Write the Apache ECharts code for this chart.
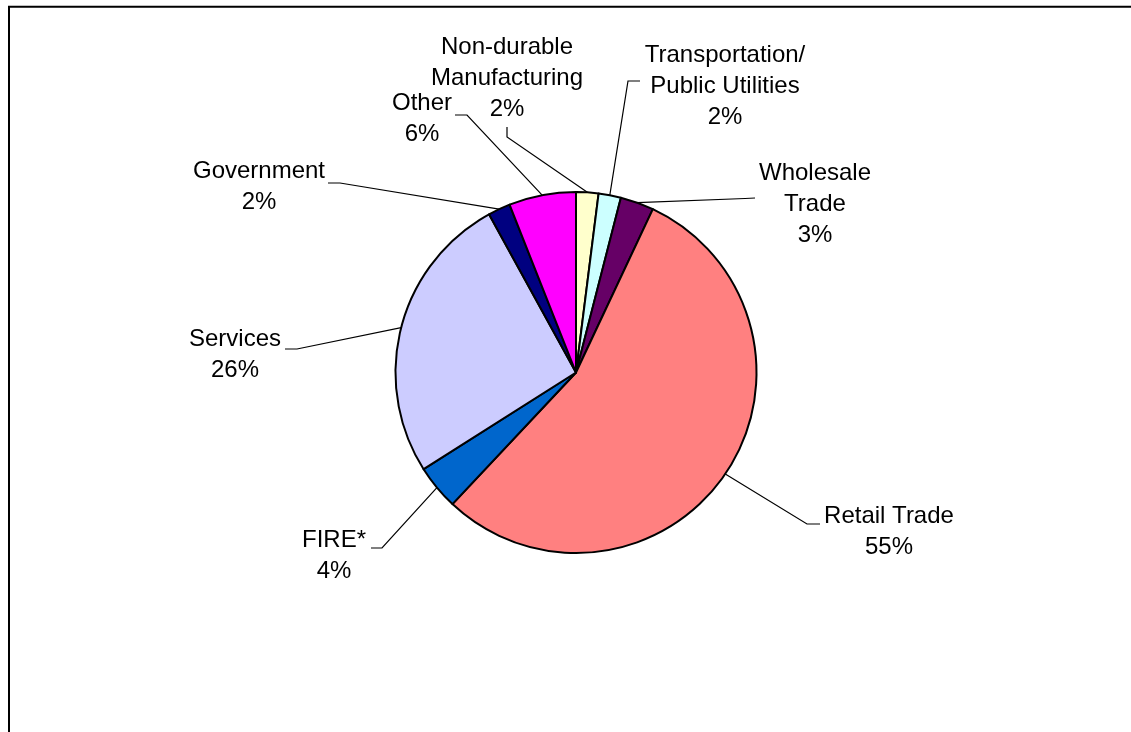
<!DOCTYPE html>
<html><head><meta charset="utf-8">
<script src="https://cdn.jsdelivr.net/npm/echarts@6/dist/echarts.min.js"></script>
<style>html,body{margin:0;padding:0;background:#fff}#c{width:1131px;height:732px}</style>
</head><body><div id="c"></div>
<script>
// ---- data ----
const categories = ['Non-durable\nManufacturing', 'Transportation/\nPublic Utilities', 'Wholesale\nTrade', 'Retail Trade', 'FIRE*', 'Services', 'Government', 'Other'];
const shares = [2, 2, 3, 55, 4, 26, 2, 6];

// ---- styles / layout ----
const sliceColors = ['#FFFFCC', '#CCFFFF', '#660066', '#FF8080', '#0066CC', '#CCCCFF', '#000080', '#FF00FF'];
// label block centre [x, y], leader knee [x, y], leader end [x, y]
const labelPlacement = [
  [507, 78, 507, 137, 507, 127],
  [725, 86, 628, 81, 640, 81],
  [815, 204, 745, 198.5, 755, 198],
  [889, 532, 807, 524, 820, 524],
  [334, 555.5, 382, 548, 371, 548],
  [235, 355, 297, 349, 285, 349],
  [259, 186.5, 340, 183, 328, 183],
  [422, 119, 467, 115, 455, 115]
];

const chart = echarts.init(document.getElementById('c'), null, {renderer: 'canvas'});
chart.setOption({
  animation: false,
  backgroundColor: '#ffffff',
  graphic: [{
    type: 'polyline',
    shape: {points: [[9, 732], [9, 6.7], [1131, 6.7]]},
    style: {stroke: '#000', lineWidth: 2, fill: null},
    silent: true
  }],
  series: [{
    type: 'pie',
    center: [576, 372.5],
    radius: 180.5,
    startAngle: 90,
    clockwise: true,
    avoidLabelOverlap: false,
    emphasis: {disabled: true},
    data: categories.map((n, i) => ({name: n, value: shares[i], itemStyle: {color: sliceColors[i]}})),
    itemStyle: {borderColor: '#000', borderWidth: 2},
    label: {
      show: true,
      position: 'outside',
      formatter: '{b}\n{c}%',
      color: '#000',
      fontSize: 24,
      lineHeight: 31,
      fontFamily: '"Liberation Sans", Arial, sans-serif',
      align: 'center'
    },
    labelLine: {show: true, length: 20, length2: 10, lineStyle: {color: '#000', width: 1.2}},
    labelLayout: function (p) {
      const L = labelPlacement[p.dataIndex];
      const start = (p.labelLinePoints && p.labelLinePoints[0]) || [L[2], L[3]];
      return {
        x: L[0], y: L[1], align: 'center', verticalAlign: 'middle',
        labelLinePoints: [start, [L[2], L[3]], [L[4], L[5]]]
      };
    }
  }]
});
</script></body></html>
